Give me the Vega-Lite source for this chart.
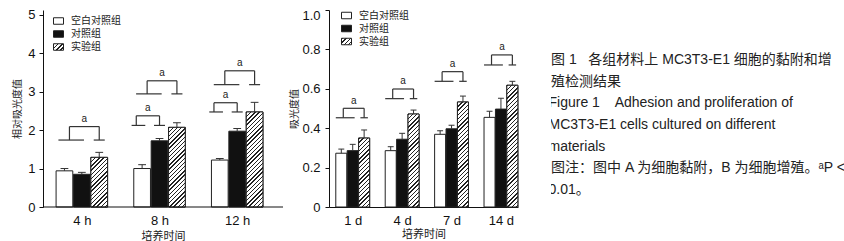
{
"$schema": "https://vega.github.io/schema/vega-lite/v6.json",
"padding": {"left": 12, "top": 8, "right": 0, "bottom": 0},
"bounds": "flush",
"spacing": 33,
"resolve": {"scale": {"fill": "independent"}, "legend": {"fill": "independent"}},
"params": [{"name": "hatch", "value": [
{"offset":0,"color":"#222"},{"offset":0.01,"color":"#222"},{"offset":0.01,"color":"#fff"},{"offset":0.03,"color":"#fff"},
{"offset":0.03,"color":"#222"},{"offset":0.04,"color":"#222"},{"offset":0.04,"color":"#fff"},{"offset":0.06,"color":"#fff"},
{"offset":0.06,"color":"#222"},{"offset":0.07,"color":"#222"},{"offset":0.07,"color":"#fff"},{"offset":0.09,"color":"#fff"},
{"offset":0.09,"color":"#222"},{"offset":0.1,"color":"#222"},{"offset":0.1,"color":"#fff"},{"offset":0.12,"color":"#fff"},
{"offset":0.12,"color":"#222"},{"offset":0.13,"color":"#222"},{"offset":0.13,"color":"#fff"},{"offset":0.15,"color":"#fff"},
{"offset":0.15,"color":"#222"},{"offset":0.16,"color":"#222"},{"offset":0.16,"color":"#fff"},{"offset":0.18,"color":"#fff"},
{"offset":0.18,"color":"#222"},{"offset":0.19,"color":"#222"},{"offset":0.19,"color":"#fff"},{"offset":0.21,"color":"#fff"},
{"offset":0.21,"color":"#222"},{"offset":0.22,"color":"#222"},{"offset":0.22,"color":"#fff"},{"offset":0.24,"color":"#fff"},
{"offset":0.24,"color":"#222"},{"offset":0.25,"color":"#222"},{"offset":0.25,"color":"#fff"},{"offset":0.27,"color":"#fff"},
{"offset":0.27,"color":"#222"},{"offset":0.28,"color":"#222"},{"offset":0.28,"color":"#fff"},{"offset":0.3,"color":"#fff"},
{"offset":0.3,"color":"#222"},{"offset":0.31,"color":"#222"},{"offset":0.31,"color":"#fff"},{"offset":0.33,"color":"#fff"},
{"offset":0.33,"color":"#222"},{"offset":0.34,"color":"#222"},{"offset":0.34,"color":"#fff"},{"offset":0.36,"color":"#fff"},
{"offset":0.36,"color":"#222"},{"offset":0.37,"color":"#222"},{"offset":0.37,"color":"#fff"},{"offset":0.39,"color":"#fff"},
{"offset":0.39,"color":"#222"},{"offset":0.4,"color":"#222"},{"offset":0.4,"color":"#fff"},{"offset":0.42,"color":"#fff"},
{"offset":0.42,"color":"#222"},{"offset":0.43,"color":"#222"},{"offset":0.43,"color":"#fff"},{"offset":0.45,"color":"#fff"},
{"offset":0.45,"color":"#222"},{"offset":0.46,"color":"#222"},{"offset":0.46,"color":"#fff"},{"offset":0.48,"color":"#fff"},
{"offset":0.48,"color":"#222"},{"offset":0.49,"color":"#222"},{"offset":0.49,"color":"#fff"},{"offset":0.51,"color":"#fff"},
{"offset":0.51,"color":"#222"},{"offset":0.52,"color":"#222"},{"offset":0.52,"color":"#fff"},{"offset":0.54,"color":"#fff"},
{"offset":0.54,"color":"#222"},{"offset":0.55,"color":"#222"},{"offset":0.55,"color":"#fff"},{"offset":0.57,"color":"#fff"},
{"offset":0.57,"color":"#222"},{"offset":0.58,"color":"#222"},{"offset":0.58,"color":"#fff"},{"offset":0.6,"color":"#fff"},
{"offset":0.6,"color":"#222"},{"offset":0.61,"color":"#222"},{"offset":0.61,"color":"#fff"},{"offset":0.63,"color":"#fff"},
{"offset":0.63,"color":"#222"},{"offset":0.64,"color":"#222"},{"offset":0.64,"color":"#fff"},{"offset":0.66,"color":"#fff"},
{"offset":0.66,"color":"#222"},{"offset":0.67,"color":"#222"},{"offset":0.67,"color":"#fff"},{"offset":0.69,"color":"#fff"},
{"offset":0.69,"color":"#222"},{"offset":0.7,"color":"#222"},{"offset":0.7,"color":"#fff"},{"offset":0.72,"color":"#fff"},
{"offset":0.72,"color":"#222"},{"offset":0.73,"color":"#222"},{"offset":0.73,"color":"#fff"},{"offset":0.75,"color":"#fff"},
{"offset":0.75,"color":"#222"},{"offset":0.76,"color":"#222"},{"offset":0.76,"color":"#fff"},{"offset":0.78,"color":"#fff"},
{"offset":0.78,"color":"#222"},{"offset":0.79,"color":"#222"},{"offset":0.79,"color":"#fff"},{"offset":0.81,"color":"#fff"},
{"offset":0.81,"color":"#222"},{"offset":0.82,"color":"#222"},{"offset":0.82,"color":"#fff"},{"offset":0.84,"color":"#fff"},
{"offset":0.84,"color":"#222"},{"offset":0.85,"color":"#222"},{"offset":0.85,"color":"#fff"},{"offset":0.87,"color":"#fff"},
{"offset":0.87,"color":"#222"},{"offset":0.88,"color":"#222"},{"offset":0.88,"color":"#fff"},{"offset":0.9,"color":"#fff"},
{"offset":0.9,"color":"#222"},{"offset":0.91,"color":"#222"},{"offset":0.91,"color":"#fff"},{"offset":0.93,"color":"#fff"},
{"offset":0.93,"color":"#222"},{"offset":0.94,"color":"#222"},{"offset":0.94,"color":"#fff"},{"offset":0.96,"color":"#fff"},
{"offset":0.96,"color":"#222"},{"offset":0.97,"color":"#222"},{"offset":0.97,"color":"#fff"},{"offset":0.99,"color":"#fff"}
]}],
"datasets": {
"adh": [
{"t":"4 h","g":"空白对照组","m":0.94,"e":0.06},
{"t":"4 h","g":"对照组","m":0.85,"e":0.05},
{"t":"4 h","g":"实验组","m":1.29,"e":0.13},
{"t":"8 h","g":"空白对照组","m":1.0,"e":0.1},
{"t":"8 h","g":"对照组","m":1.72,"e":0.06},
{"t":"8 h","g":"实验组","m":2.07,"e":0.12},
{"t":"12 h","g":"空白对照组","m":1.22,"e":0.04},
{"t":"12 h","g":"对照组","m":1.97,"e":0.07},
{"t":"12 h","g":"实验组","m":2.47,"e":0.25}
],
"adhSig": [
{"t":"4 h","from":"空白对照组","to":"实验组","top":2.09,"foot":1.74,"sig":"a"},
{"t":"8 h","from":"空白对照组","to":"对照组","top":2.37,"foot":2.12,"sig":"a"},
{"t":"8 h","from":"空白对照组","to":"实验组","top":3.28,"foot":2.94,"sig":"a"},
{"t":"12 h","from":"空白对照组","to":"对照组","top":2.71,"foot":2.47,"sig":"a"},
{"t":"12 h","from":"空白对照组","to":"实验组","top":3.54,"foot":3.18,"sig":"a"}
],
"pro": [
{"t":"1 d","g":"空白对照组","m":0.273,"e":0.021},
{"t":"1 d","g":"对照组","m":0.286,"e":0.032},
{"t":"1 d","g":"实验组","m":0.35,"e":0.041},
{"t":"4 d","g":"空白对照组","m":0.286,"e":0.02},
{"t":"4 d","g":"对照组","m":0.344,"e":0.03},
{"t":"4 d","g":"实验组","m":0.472,"e":0.02},
{"t":"7 d","g":"空白对照组","m":0.369,"e":0.018},
{"t":"7 d","g":"对照组","m":0.397,"e":0.018},
{"t":"7 d","g":"实验组","m":0.533,"e":0.03},
{"t":"14 d","g":"空白对照组","m":0.455,"e":0.031},
{"t":"14 d","g":"对照组","m":0.497,"e":0.055},
{"t":"14 d","g":"实验组","m":0.618,"e":0.02}
],
"proSig": [
{"t":"1 d","from":"空白对照组","to":"实验组","top":0.501,"foot":0.453,"sig":"a"},
{"t":"4 d","from":"空白对照组","to":"实验组","top":0.599,"foot":0.55,"sig":"a"},
{"t":"7 d","from":"空白对照组","to":"实验组","top":0.687,"foot":0.638,"sig":"a"},
{"t":"14 d","from":"空白对照组","to":"实验组","top":0.772,"foot":0.721,"sig":"a"}
],
"cap": [
{"n":1,"s":"图 1\u00a0\u00a0 各组材料上 MC3T3-E1 细胞的黏附和增"},
{"n":2,"s":"殖检测结果"},
{"n":3,"s":"Figure 1\u00a0\u00a0\u00a0 Adhesion and proliferation of"},
{"n":4,"s":"MC3T3-E1 cells cultured on different"},
{"n":5,"s":"materials"},
{"n":6,"s":"图注：图中 A 为细胞黏附，B 为细胞增殖。ᵃP <"},
{"n":7,"s":"0.01。"}
]
},
"hconcat": [
{
"width": 253, "height": 197,
"layer": [
{
"data": {"name": "adh"},
"transform": [
{"calculate": "indexof(['4 h','8 h','12 h'], datum.t) + 1 + 0.224 * (indexof(['空白对照组','对照组','实验组'], datum.g) - 1)", "as": "xc"},
{"calculate": "datum.xc - 0.1075", "as": "x0"},
{"calculate": "datum.xc + 0.1075", "as": "x1"},
{"calculate": "datum.xc - 0.05", "as": "c0"},
{"calculate": "datum.xc + 0.05", "as": "c1"},
{"calculate": "datum.m + datum.e", "as": "hi"},
{"calculate": "{gradient: 'linear', x1: 0, y1: 0, x2: 140 * 16.7 / (16.7 * 16.7 + pow(datum.m * 38.477, 2)), y2: 140 * datum.m * 38.477 / (16.7 * 16.7 + pow(datum.m * 38.477, 2)), stops: hatch}", "as": "gr"}
],
"layer": [
{
"mark": {"type": "rect", "stroke": "#222", "strokeWidth": 1},
"encoding": {
"x": {"field": "x0", "type": "quantitative", "title": "培养时间", "scale": {"domain": [0.5, 3.757], "nice": false, "zero": false},
 "axis": {"values": [1, 2, 3], "tickCount": 10, "labelExpr": "['4 h','8 h','12 h'][datum.value - 1]", "ticks": false, "domain": false, "labelPadding": 7, "titlePadding": 3, "titleFontSize": 11, "titleX": 120}},
"x2": {"field": "x1"},
"y": {"field": "m", "type": "quantitative", "title": "相对吸光度值", "scale": {"domain": [0, 5.12], "nice": false},
 "axis": {"values": [0, 1, 2, 3, 4, 5], "tickCount": 10, "format": "d", "tickSize": 4, "labelPadding": 4, "titlePadding": 5, "titleFontSize": 10}},
"y2": {"datum": 0},
"fill": {"field": "g", "type": "nominal",
 "scale": {"domain": ["空白对照组", "对照组", "实验组"], "range": ["#fff", "#111", {"expr": "{gradient: 'linear', x1: 0, y1: 0, x2: 9.84, y2: 6.4, stops: hatch}"}]},
 "legend": {"orient": "none", "legendX": 10, "legendY": 5.5, "title": null, "rowPadding": 2, "labelOffset": 7,
  "encode": {"symbols": {"update": {"stroke": {"value": "#222"}, "strokeWidth": {"value": 1}}}}}}
}
},
{
"transform": [{"filter": "datum.g == '实验组'"}],
"mark": {"type": "rect", "stroke": "#222", "strokeWidth": 1},
"encoding": {
"x": {"field": "x0", "type": "quantitative"},
"x2": {"field": "x1"},
"y": {"field": "m", "type": "quantitative"},
"y2": {"datum": 0},
"fill": {"field": "gr", "type": "nominal", "scale": null}
}
},
{
"mark": {"type": "rule", "color": "#333", "strokeWidth": 1},
"encoding": {"x": {"field": "xc", "type": "quantitative"}, "y": {"field": "m", "type": "quantitative"}, "y2": {"field": "hi"}}
},
{
"mark": {"type": "rule", "color": "#333", "strokeWidth": 1},
"encoding": {"x": {"field": "c0", "type": "quantitative"}, "x2": {"field": "c1"}, "y": {"field": "hi", "type": "quantitative"}}
}
]
},
{
"data": {"values": [{}]},
"mark": {"type": "rule", "color": "#111", "strokeWidth": 1},
"encoding": {"x": {"datum": 0.5, "type": "quantitative"}, "x2": {"datum": 3.59}, "y": {"datum": 0, "type": "quantitative"}}
},
{
"data": {"name": "adhSig"},
"transform": [
{"calculate": "indexof(['4 h','8 h','12 h'], datum.t) + 1", "as": "ti"},
{"calculate": "datum.to == '实验组'", "as": "w"},
{"calculate": "datum.ti + 0.224 * (indexof(['空白对照组','对照组','实验组'], datum.from) - 1) + (datum.w ? 0.3 : -0.35) * 0.215", "as": "xl"},
{"calculate": "datum.ti + 0.224 * (indexof(['空白对照组','对照组','实验组'], datum.to) - 1)", "as": "xr"},
{"calculate": "datum.xl + (datum.w ? -0.66 : -0.28) * 0.215", "as": "lf0"},
{"calculate": "datum.xl + (datum.w ? 0.87 : 0.54) * 0.215", "as": "lf1"},
{"calculate": "datum.xr - 0.33 * 0.215", "as": "rf0"},
{"calculate": "datum.xr + 0.33 * 0.215", "as": "rf1"},
{"calculate": "(datum.xl + datum.xr) / 2", "as": "xm"}
],
"layer": [
{"mark": {"type": "rule", "color": "#333", "strokeWidth": 1.2},
 "encoding": {"x": {"field": "xl", "type": "quantitative"}, "x2": {"field": "xr"}, "y": {"field": "top", "type": "quantitative"}}},
{"mark": {"type": "rule", "color": "#333", "strokeWidth": 1.2},
 "encoding": {"x": {"field": "xl", "type": "quantitative"}, "y": {"field": "foot", "type": "quantitative"}, "y2": {"field": "top"}}},
{"mark": {"type": "rule", "color": "#333", "strokeWidth": 1.2},
 "encoding": {"x": {"field": "xr", "type": "quantitative"}, "y": {"field": "foot", "type": "quantitative"}, "y2": {"field": "top"}}},
{"mark": {"type": "rule", "color": "#333", "strokeWidth": 1.2},
 "encoding": {"x": {"field": "lf0", "type": "quantitative"}, "x2": {"field": "lf1"}, "y": {"field": "foot", "type": "quantitative"}}},
{"mark": {"type": "rule", "color": "#333", "strokeWidth": 1.2},
 "encoding": {"x": {"field": "rf0", "type": "quantitative"}, "x2": {"field": "rf1"}, "y": {"field": "foot", "type": "quantitative"}}},
{"mark": {"type": "text", "font": "Liberation Sans", "fontSize": 10, "baseline": "alphabetic", "dy": -4.5, "color": "#222"},
 "encoding": {"x": {"field": "xm", "type": "quantitative"}, "y": {"field": "top", "type": "quantitative"}, "text": {"field": "sig"}}}
]
}
]
},
{
"width": 189, "height": 197,
"layer": [
{
"data": {"name": "pro"},
"transform": [
{"calculate": "indexof(['1 d','4 d','7 d','14 d'], datum.t) + 1 + 0.231 * (indexof(['空白对照组','对照组','实验组'], datum.g) - 1)", "as": "xc"},
{"calculate": "datum.xc - 0.1115", "as": "x0"},
{"calculate": "datum.xc + 0.1115", "as": "x1"},
{"calculate": "datum.xc - 0.06", "as": "c0"},
{"calculate": "datum.xc + 0.06", "as": "c1"},
{"calculate": "datum.m + datum.e", "as": "hi"},
{"calculate": "{gradient: 'linear', x1: 0, y1: 0, x2: 140 * 11 / (11 * 11 + pow(datum.m * 197, 2)), y2: 140 * datum.m * 197 / (11 * 11 + pow(datum.m * 197, 2)), stops: hatch}", "as": "gr"}
],
"layer": [
{
"mark": {"type": "rect", "stroke": "#222", "strokeWidth": 1},
"encoding": {
"x": {"field": "x0", "type": "quantitative", "title": "培养时间", "scale": {"domain": [0.52, 4.345], "nice": false, "zero": false},
 "axis": {"values": [1, 2, 3, 4], "tickCount": 10, "labelExpr": "['1 d','4 d','7 d','14 d'][datum.value - 1]", "ticks": false, "labelPadding": 7, "titlePadding": 1, "titleFontSize": 11}},
"x2": {"field": "x1"},
"y": {"field": "m", "type": "quantitative", "title": "吸光度值", "scale": {"domain": [0, 1], "nice": false},
 "axis": {"values": [0, 0.2, 0.4, 0.6, 0.8, 1], "tickCount": 10, "labelExpr": "datum.value == 0 ? '0' : format(datum.value, '.1f')",
  "labelOffset": {"condition": {"test": "datum.value == 1", "value": 5}, "value": 0},
  "tickSize": 4, "labelPadding": 5, "titlePadding": 2, "titleFontSize": 10}},
"y2": {"datum": 0},
"fill": {"field": "g", "type": "nominal",
 "scale": {"domain": ["空白对照组", "对照组", "实验组"], "range": ["#fff", "#111", {"expr": "{gradient: 'linear', x1: 0, y1: 0, x2: 9.84, y2: 6.4, stops: hatch}"}]},
 "legend": {"orient": "none", "legendX": 12, "legendY": 0, "title": null, "rowPadding": 2, "labelOffset": 7,
  "encode": {"symbols": {"update": {"stroke": {"value": "#222"}, "strokeWidth": {"value": 1}}}}}}
}
},
{
"transform": [{"filter": "datum.g == '实验组'"}],
"mark": {"type": "rect", "stroke": "#222", "strokeWidth": 1},
"encoding": {
"x": {"field": "x0", "type": "quantitative"},
"x2": {"field": "x1"},
"y": {"field": "m", "type": "quantitative"},
"y2": {"datum": 0},
"fill": {"field": "gr", "type": "nominal", "scale": null}
}
},
{
"mark": {"type": "rule", "color": "#333", "strokeWidth": 1},
"encoding": {"x": {"field": "xc", "type": "quantitative"}, "y": {"field": "m", "type": "quantitative"}, "y2": {"field": "hi"}}
},
{
"mark": {"type": "rule", "color": "#333", "strokeWidth": 1},
"encoding": {"x": {"field": "c0", "type": "quantitative"}, "x2": {"field": "c1"}, "y": {"field": "hi", "type": "quantitative"}}
}
]
},
{
"data": {"name": "proSig"},
"transform": [
{"calculate": "indexof(['1 d','4 d','7 d','14 d'], datum.t) + 1", "as": "ti"},
{"calculate": "datum.to == '实验组'", "as": "w"},
{"calculate": "datum.ti + 0.231 * (indexof(['空白对照组','对照组','实验组'], datum.from) - 1) + (datum.w ? 0.18 : -0.35) * 0.223", "as": "xl"},
{"calculate": "datum.ti + 0.231 * (indexof(['空白对照组','对照组','实验组'], datum.to) - 1)", "as": "xr"},
{"calculate": "datum.xl - 0.68 * 0.223", "as": "lf0"},
{"calculate": "datum.xl + 1.03 * 0.223", "as": "lf1"},
{"calculate": "datum.xr - 0.34 * 0.223", "as": "rf0"},
{"calculate": "datum.xr + 0.34 * 0.223", "as": "rf1"},
{"calculate": "(datum.xl + datum.xr) / 2", "as": "xm"}
],
"layer": [
{"mark": {"type": "rule", "color": "#333", "strokeWidth": 1.2},
 "encoding": {"x": {"field": "xl", "type": "quantitative"}, "x2": {"field": "xr"}, "y": {"field": "top", "type": "quantitative"}}},
{"mark": {"type": "rule", "color": "#333", "strokeWidth": 1.2},
 "encoding": {"x": {"field": "xl", "type": "quantitative"}, "y": {"field": "foot", "type": "quantitative"}, "y2": {"field": "top"}}},
{"mark": {"type": "rule", "color": "#333", "strokeWidth": 1.2},
 "encoding": {"x": {"field": "xr", "type": "quantitative"}, "y": {"field": "foot", "type": "quantitative"}, "y2": {"field": "top"}}},
{"mark": {"type": "rule", "color": "#333", "strokeWidth": 1.2},
 "encoding": {"x": {"field": "lf0", "type": "quantitative"}, "x2": {"field": "lf1"}, "y": {"field": "foot", "type": "quantitative"}}},
{"mark": {"type": "rule", "color": "#333", "strokeWidth": 1.2},
 "encoding": {"x": {"field": "rf0", "type": "quantitative"}, "x2": {"field": "rf1"}, "y": {"field": "foot", "type": "quantitative"}}},
{"mark": {"type": "text", "font": "Liberation Sans", "fontSize": 10, "baseline": "alphabetic", "dy": -4.5, "color": "#222"},
 "encoding": {"x": {"field": "xm", "type": "quantitative"}, "y": {"field": "top", "type": "quantitative"}, "text": {"field": "sig"}}}
]
}
]
},
{
"width": 294, "height": 197,
"data": {"name": "cap"},
"encoding": {
"y": {"field": "n", "type": "ordinal", "axis": null, "scale": {"type": "point", "padding": 0, "domain": [1, 2, 3, 4, 5, 6, 7], "range": [50, 180]}},
"x": {"value": 0},
"text": {"field": "s"}
},
"layer": [
{"transform": [{"filter": "!test(/^[A-Za-z0-9]/, datum.s)"}],
 "mark": {"type": "text", "align": "left", "baseline": "middle", "fontSize": 14, "font": "Liberation Sans, Noto Sans CJK SC", "color": "#222", "clip": true}},
{"transform": [{"filter": "test(/^[A-Za-z0-9]/, datum.s)"}],
 "mark": {"type": "text", "align": "left", "baseline": "middle", "fontSize": 14, "font": "Liberation Sans, Noto Sans CJK SC", "color": "#222", "clip": true, "dx": -2.5}}
]
}
],
"config": {
"view": {"stroke": null},
"axis": {"grid": false, "labelOverlap": false, "labelFont": "Liberation Sans", "labelFontSize": 13, "labelColor": "#111", "titleFont": "Noto Sans CJK SC", "titleColor": "#222", "titleFontWeight": "normal", "domainColor": "#111", "tickColor": "#111"},
"legend": {"symbolType": "M-1,-0.65H1V0.65H-1Z", "symbolSize": 100, "symbolStrokeColor": "#222", "symbolStrokeWidth": 1, "labelFont": "Noto Sans CJK SC", "labelFontSize": 10, "labelColor": "#222", "padding": 0}
}
}
